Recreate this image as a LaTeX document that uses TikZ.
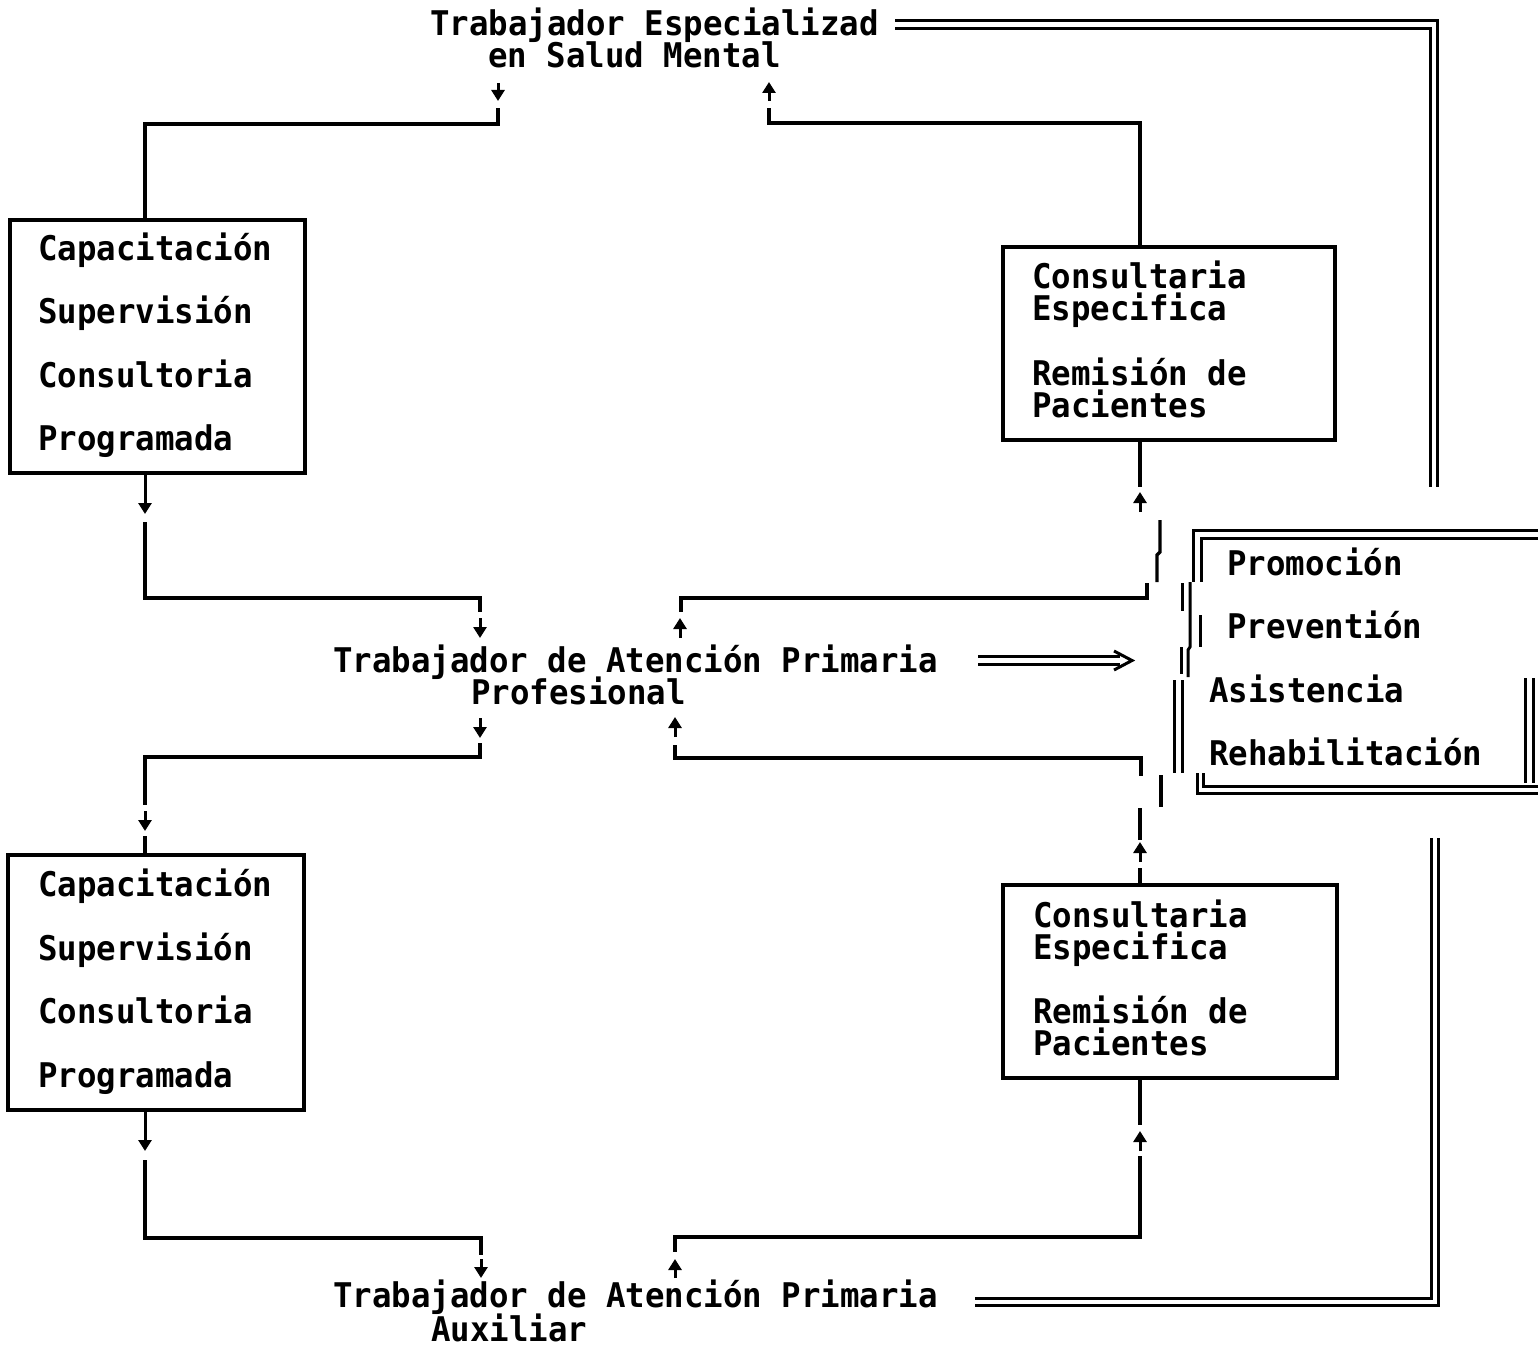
\documentclass[tikz,border=0pt]{standalone}
\usepackage{fontspec}
\newfontfamily\mono[FakeStretch=0.953]{DejaVu Sans Mono}
\usetikzlibrary{arrows.meta}
\begin{document}
\begin{tikzpicture}[x=1pt,y=-1pt,
  txt/.style={anchor=base west,inner sep=0pt,font=\mono\bfseries\fontsize{34}{40}\selectfont},
  box/.style={draw,line width=3.4pt,inner sep=0pt},
  ln/.style={line width=3.4pt},
  arr/.style={line width=3pt,-{Triangle[length=11pt,width=13pt]}},
  dbl/.style={double,double distance=4.5pt,line width=3pt},
  thn/.style={line width=3pt}]
\useasboundingbox[fill=white] (0,0) rectangle (1538,1348);

% ---- labels of the three workers
\node[txt] (top1) at (430,36) {Trabajador Especializad};
\node[txt] (top2) at (488,68) {en Salud Mental};
\node[txt] (mid1) at (333,672) {Trabajador de Atención Primaria};
\node[txt] (mid2) at (471,704) {Profesional};
\node[txt] (bot1) at (333,1307) {Trabajador de Atención Primaria};
\node[txt] (bot2) at (431,1341) {Auxiliar};

% ---- boxes
\node[box,minimum width=295pt,minimum height=253pt] (tl) at (157.5,346.5) {};
\node[txt] (tl1) at (38,260) {Capacitación};
\node[txt] (tl2) at (38,323) {Supervisión};
\node[txt] (tl3) at (38,387) {Consultoria};
\node[txt] (tl4) at (38,450) {Programada};

\node[box,minimum width=296pt,minimum height=255pt] (bl) at (156,982.5) {};
\node[txt] (bl1) at (38,896) {Capacitación};
\node[txt] (bl2) at (38,960) {Supervisión};
\node[txt] (bl3) at (38,1023) {Consultoria};
\node[txt] (bl4) at (38,1087) {Programada};

\node[box,minimum width=332pt,minimum height=193pt] (tr) at (1169,343.5) {};
\node[txt] (tr1) at (1032,288) {Consultaria};
\node[txt] (tr2) at (1032,320) {Especifica};
\node[txt] (tr3) at (1032,385) {Remisión de};
\node[txt] (tr4) at (1032,417) {Pacientes};

\node[box,minimum width=334pt,minimum height=193pt] (br) at (1170,981.5) {};
\node[txt] (br1) at (1033,927) {Consultaria};
\node[txt] (br2) at (1033,959) {Especifica};
\node[txt] (br3) at (1033,1023) {Remisión de};
\node[txt] (br4) at (1033,1055) {Pacientes};

% ---- right box texts
\node[txt] (r1) at (1227,575) {Promoción};
\node[txt] (r2) at (1227,638) {Preventión};
\node[txt] (r3) at (1209,702) {Asistencia};
\node[txt] (r4) at (1209,765) {Rehabilitación};

% ---- route coordinates
\coordinate (cl) at (145,124);
\coordinate (cr) at (1140,123);

% top-left box -> specialist
\draw[ln] (cl |- tl.north) -- (cl) -- (498,124) -- (498,108);
\draw[arr] (498,83) -- (498,101);
% top-right box -> specialist
\draw[ln] (cr |- tr.north) -- (cr) -- (769,123) -- (769,108);
\draw[arr] (769,101) -- (769,82);

% top-left box -> professional
\draw[arr] (cl |- tl.south) -- (145,514);
\draw[ln] (145,522) -- (145,598) -- (480,598) -- (480,612);
\draw[arr] (480,618) -- (480,638);
% professional -> top-right box
\draw[ln] (cr |- tr.south) -- (1140,487);
\draw[arr] (1140,512) -- (1140,492);
\draw[ln] (1160,520) -- (1160,552) -- (1157,555) -- (1157,582);
\draw[ln] (1147,583) -- (1147,598) -- (681,598) -- (681,612);
\draw[arr] (680,638) -- (680,618);

% professional -> bottom-left box
\draw[arr] (480,718) -- (480,738);
\draw[ln] (480,743) -- (480,757) -- (145,757) -- (145,805);
\draw[arr] (145,811) -- (145,831);
\draw[ln] (145,836) -- (cl |- bl.north);
% bottom-right box -> professional
\draw[arr] (675,737) -- (675,717);
\draw[ln] (675,745) -- (675,758) -- (1141,758) -- (1141,776);
\draw[ln] (1161,775) -- (1161,807);
\draw[ln] (1140,808) -- (1140,840);
\draw[arr] (1140,862) -- (1140,842);
\draw[ln] (1140,868) -- (cr |- br.north);

% bottom-left box -> auxiliary
\draw[arr] (cl |- bl.south) -- (145,1151);
\draw[ln] (145,1160) -- (145,1238) -- (481,1238) -- (481,1255);
\draw[arr] (481,1259) -- (481,1278);
% auxiliary -> bottom-right box
\draw[ln] (cr |- br.south) -- (1140,1125);
\draw[arr] (1140,1151) -- (1140,1131);
\draw[ln] (1140,1156) -- (1140,1237) -- (675,1237) -- (675,1252);
\draw[arr] (675,1278) -- (675,1259);

% ---- double lines
\coordinate (d1) at (895,24.5);
\coordinate (d2) at (1434,24.5);
\coordinate (d3) at (1434,487);
\draw[dbl] (d1) -- (d2) -- (d3);
\coordinate (e1) at (975,1302);
\coordinate (e2) at (1435,1302);
\coordinate (e3) at (1435,838);
\draw[dbl] (e1) -- (e2) -- (e3);
\coordinate (m1) at (978,660.5);
\coordinate (m2) at (1120,660.5);
\draw[dbl] (m1) -- (m2);
\draw[thn,line join=miter] (1114,651) -- (1132,660.5) -- (1114,670);

% ---- right box frame
\draw[thn] (1538,530) -- (1193,530) -- (1193,582);
\draw[thn] (1538,538) -- (1201,538) -- (1201,582);
\draw[thn] (1182,583) -- (1182,611);
\draw[thn] (1190,582) -- (1190,647) -- (1188,650) -- (1188,677);
\draw[thn] (1200,615) -- (1200,647);
\draw[thn] (1181,647) -- (1181,674);
\draw[thn] (1174,680) -- (1174,773);
\draw[thn] (1182,680) -- (1182,773);
\draw[thn] (1197,773) -- (1197,793) -- (1538,793);
\draw[thn] (1203,773) -- (1203,786) -- (1538,786);
\draw[thn] (1525,678) -- (1525,783);
\draw[thn] (1533,678) -- (1533,783);
\end{tikzpicture}
\end{document}
